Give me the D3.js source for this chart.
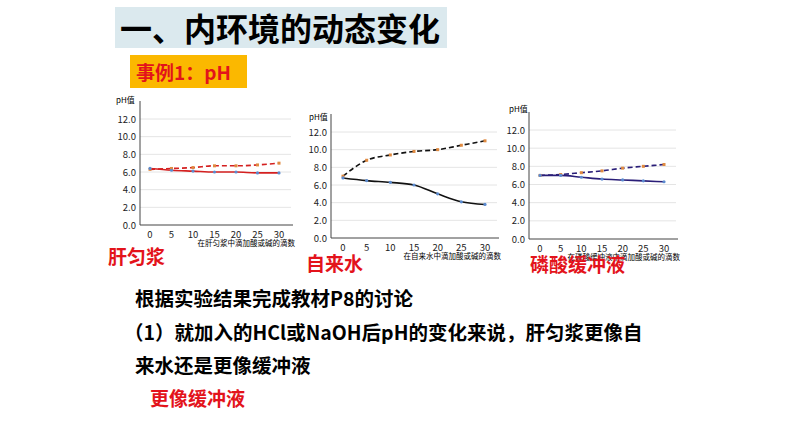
<!DOCTYPE html><html><head><meta charset="utf-8"><script src="https://cdn.jsdelivr.net/npm/d3@7"></script>
<style>body{margin:0;background:#fff}svg{font-family:"Noto Sans CJK SC",sans-serif}</style></head><body><svg id="s" width="794" height="447"></svg>
<script>
const drops=[0,5,10,15,20,25,30];
const yTicks=[0,2,4,6,8,10,12];
const liverAcid=[6.4,6.2,6.1,6.0,6.0,5.9,5.9], liverBase=[6.3,6.4,6.5,6.7,6.7,6.8,7.0];
const waterAcid=[6.8,6.5,6.3,6.0,5.0,4.1,3.8], waterBase=[7.0,8.8,9.4,9.8,10.0,10.5,11.0];
const bufAcid=[7.0,7.0,6.8,6.6,6.5,6.4,6.3], bufBase=[7.0,7.1,7.3,7.5,7.8,8.0,8.2];
const svg=d3.select("#s");
svg.append("rect").attr("x",115).attr("y",7).attr("width",332).attr("height",41).attr("fill","#dbe9ee");
svg.append("text").attr("x",120).attr("y",41).attr("font-size",32).attr("font-weight","bold").text("一、内环境的动态变化");
svg.append("rect").attr("x",130).attr("y",55).attr("width",117).attr("height",33).attr("fill","#fbb800");
svg.append("text").attr("x",136).attr("y",80).attr("font-size",19).attr("font-weight","bold").attr("fill","#e3131b").text("事例1：pH");
const charts=[
 {ax:140,x0:150,x1:279,y0:225,y1:119,acid:liverAcid,base:liverBase,lc:"#d42020",lab:"在肝匀浆中滴加酸或碱的滴数",px:116,py:103},
 {ax:331,x0:343,x1:485,y0:238,y1:132,acid:waterAcid,base:waterBase,lc:"#111",lab:"在自来水中滴加酸或碱的滴数",px:309,py:120},
 {ax:529,x0:540,x1:664,y0:239,y1:130,acid:bufAcid,base:bufBase,lc:"#2a1e78",lab:"在磷酸缓冲液中滴加酸或碱的滴数",px:509,py:112}];
charts.forEach(c=>{
 const x=d3.scaleLinear().domain([0,30]).range([c.x0,c.x1]);
 const y=d3.scaleLinear().domain([0,12]).range([c.y0,c.y1]);
 const g=svg.append("g");
 g.selectAll("line.g").data(yTicks.slice(1)).join("line").attr("x1",c.ax).attr("x2",c.x1+12).attr("y1",d=>y(d)).attr("y2",d=>y(d)).attr("stroke","#ddd").attr("stroke-width",0.8);
 g.selectAll("text.yt").data(yTicks).join("text").attr("x",c.ax-4).attr("y",d=>y(d)+3.5).attr("text-anchor","end").attr("font-size",9.5).attr("fill","#222").text(d=>d.toFixed(1));
 g.selectAll("text.xt").data(drops).join("text").attr("x",d=>x(d)).attr("y",c.y0+13).attr("text-anchor","middle").attr("font-size",9.5).attr("fill","#222").text(d=>d);
 g.append("line").attr("x1",c.ax).attr("x2",c.ax).attr("y1",c.y0).attr("y2",c.y1-18).attr("stroke","#444");
 g.append("line").attr("x1",c.ax).attr("x2",c.x1+14).attr("y1",c.y0).attr("y2",c.y0).attr("stroke","#444");
 g.append("text").attr("x",c.px).attr("y",c.py).attr("font-size",8).text("pH值");
 g.append("text").attr("x",c.x1+16).attr("y",c.y0+21).attr("text-anchor","end").attr("font-size",7.5).text(c.lab);
 const ln=d3.line().x((d,i)=>x(drops[i])).y(d=>y(d)).curve(d3.curveMonotoneX);
 g.append("path").attr("d",ln(c.base)).attr("fill","none").attr("stroke",c.lc).attr("stroke-width",1.6).attr("stroke-dasharray","5,3");
 g.append("path").attr("d",ln(c.acid)).attr("fill","none").attr("stroke",c.lc).attr("stroke-width",1.6);
 g.selectAll("rect.b").data(c.base).join("rect").attr("x",(d,i)=>x(drops[i])-1.5).attr("y",d=>y(d)-1.5).attr("width",3).attr("height",3).attr("fill","#e08a40");
 g.selectAll("circle.a").data(c.acid).join("circle").attr("cx",(d,i)=>x(drops[i])).attr("cy",d=>y(d)).attr("r",1.6).attr("fill","#5b8bd0");
});
const red="#e3131b";
svg.append("text").attr("x",108).attr("y",264).attr("font-size",19).attr("font-weight","bold").attr("fill",red).text("肝匀浆");
svg.append("text").attr("x",306).attr("y",271).attr("font-size",19).attr("font-weight","bold").attr("fill",red).text("自来水");
svg.append("text").attr("x",530).attr("y",272).attr("font-size",19).attr("font-weight","bold").attr("fill",red).text("磷酸缓冲液");
const body=[["根据实验结果完成教材P8的讨论",135,306],["（1）就加入的HCl或NaOH后pH的变化来说，肝匀浆更像自",124,340],["来水还是更像缓冲液",135,373]];
body.forEach(b=>svg.append("text").attr("x",b[1]).attr("y",b[2]).attr("font-size",19.5).attr("font-weight","bold").text(b[0]));
svg.append("text").attr("x",150).attr("y",406).attr("font-size",19).attr("font-weight","bold").attr("fill",red).text("更像缓冲液");
</script></body></html>
